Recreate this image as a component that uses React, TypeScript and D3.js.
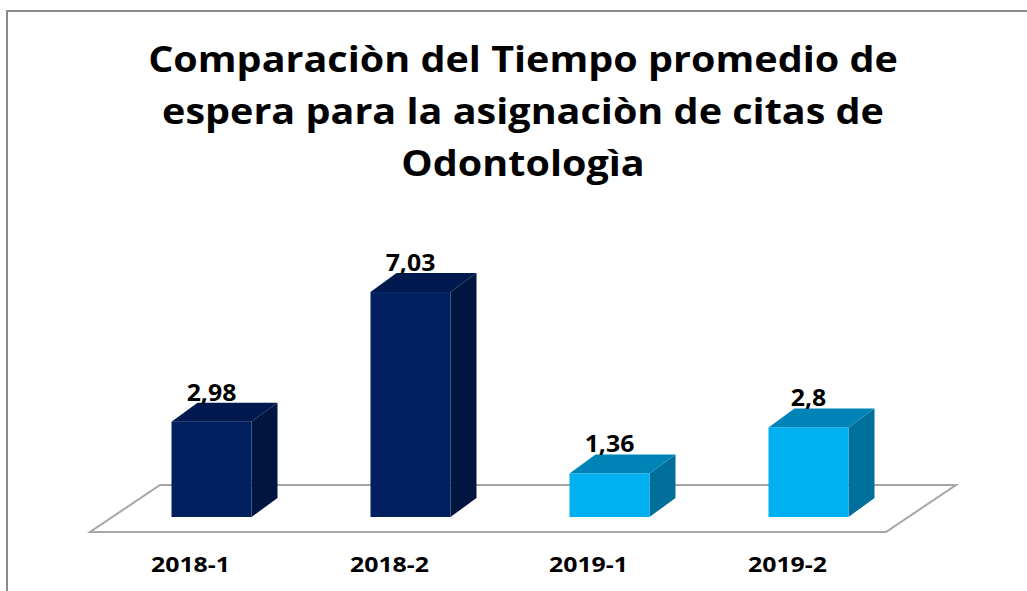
import React from "react";
import * as d3 from "d3";

const categories = ["2018-1", "2018-2", "2019-1", "2019-2"];
const values = [2.98, 7.03, 1.36, 2.8];
const valueLabels = ["2,98", "7,03", "1,36", "2,8"];
const titleLines = [
  "Comparaciòn del Tiempo promedio de",
  "espera para la asignaciòn de citas de",
  "Odontologìa",
];
const palette = [
  { front: "#002060", top: "#001A4F", side: "#001540" },
  { front: "#002060", top: "#001A4F", side: "#001540" },
  { front: "#00B0F0", top: "#0084B8", side: "#006F9C" },
  { front: "#00B0F0", top: "#0084B8", side: "#006F9C" },
];

const W = 1027;
const H = 591;
const FONT = "'Open Sans', 'Liberation Sans', sans-serif";

function Label(props: {
  x: number;
  y: number;
  sx: number;
  size: number;
  weight: number;
  children: React.ReactNode;
}) {
  return (
    <text
      transform={`translate(${props.x},${props.y}) scale(${props.sx},1)`}
      textAnchor="middle"
      fontFamily={FONT}
      fontWeight={props.weight}
      fontSize={props.size}
      fill="#000"
    >
      {props.children}
    </text>
  );
}

export default function App() {
  const x = d3
    .scaleBand<string>()
    .domain(categories)
    .range([112, 908])
    .paddingInner(0.598)
    .paddingOuter(0.299);
  const y = d3.scaleLinear().domain([0, 8]).range([517, 261]);
  const bw = x.bandwidth();
  const dx = 26;
  const dy = -19;
  const base = y(0);

  const fl = x.range()[0];
  const fr = x.range()[1];
  const floorPts: [number, number][] = [
    [fl - 22, base + 15],
    [fr - 22, base + 15],
    [fr + 48, base - 32],
    [fl + 48, base - 32],
  ];
  const line = d3.line();

  return (
    <svg
      width={W}
      height={H}
      style={{ position: "absolute", left: 0, top: 0, background: "#fff" }}
    >
      <rect x={7} y={11} width={1200} height={800} fill="#fff" stroke="#8C8C8C" strokeWidth={2} />
      {titleLines.map((t, i) => (
        <Label key={i} x={523} y={72 + i * 52} sx={1.13} size={35} weight={700}>
          {t}
        </Label>
      ))}
      <path d={line(floorPts) + "Z"} fill="#fff" stroke="#A6A6A6" strokeWidth={2} />
      {categories.map((c, i) => {
        const x0 = x(c)!;
        const x1 = x0 + bw;
        const yT = y(values[i]);
        const col = palette[i];
        const top =
          line([
            [x0, yT],
            [x0 + dx, yT + dy],
            [x1 + dx, yT + dy],
            [x1, yT],
          ]) + "Z";
        const side =
          line([
            [x1, yT],
            [x1 + dx, yT + dy],
            [x1 + dx, base + dy],
            [x1, base],
          ]) + "Z";
        return (
          <g key={c}>
            <path d={side} fill={col.side} />
            <path d={top} fill={col.top} />
            <rect x={x0} y={yT} width={bw} height={base - yT} fill={col.front} />
            <Label x={x0 + bw / 2} y={yT - 21} sx={1.08} size={23} weight={700}>
              {valueLabels[i]}
            </Label>
            <Label x={x0 + bw / 2 - 21} y={572} sx={1.13} size={22} weight={700}>
              {c}
            </Label>
          </g>
        );
      })}
    </svg>
  );
}
